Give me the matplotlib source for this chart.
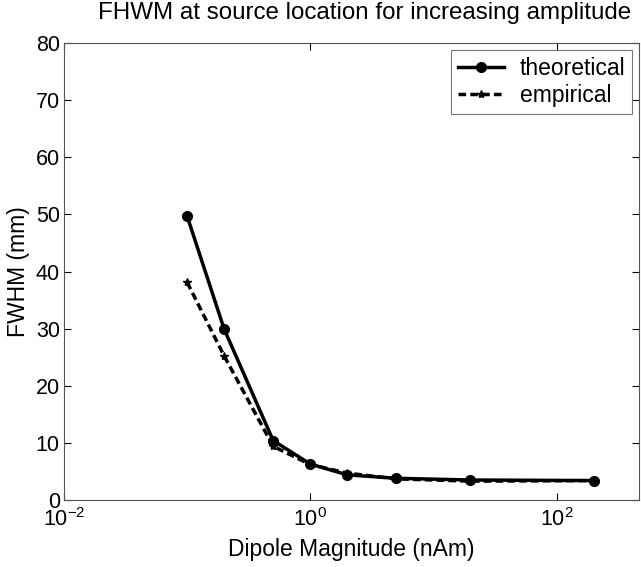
import matplotlib
matplotlib.use("Agg")
import matplotlib.pyplot as plt
from matplotlib.ticker import FixedLocator, NullLocator, FixedFormatter

plt.rcParams['font.family'] = ['Liberation Sans', 'DejaVu Sans']
plt.rcParams['mathtext.fontset'] = 'custom'
plt.rcParams['mathtext.rm'] = 'Liberation Sans'

magnitude = [0.1, 0.2, 0.5, 1, 2, 5, 20, 200]
theoretical = [49.7, 29.9, 10.4, 6.3, 4.4, 3.8, 3.5, 3.4]
empirical = [38.1, 25.2, 9.4, 6.2, 4.7, 3.7, 3.3, 3.4]

xticks = [1e-2, 1e0, 1e2]
xticklabels = [r'$10^{-2}$', r'$10^{0}$', r'$10^{2}$']
yticks = [0, 10, 20, 30, 40, 50, 60, 70, 80]

fig = plt.figure(figsize=(6.41, 5.67), dpi=100)
ax = fig.add_axes([64/641, 1-500/567, (639-64)/641, (500-43)/567])

ax.plot(magnitude, theoretical, '-', color='black', lw=2.5, marker='o',
        markersize=7, label='theoretical')
ax.plot(magnitude, empirical, '--', color='black', lw=2.5, marker='*',
        markersize=6, dashes=(2.2, 1.2), label='empirical')

ax.set_xscale('log')
ax.set_xlim(1e-2, 10**2.67)
ax.set_ylim(0, 80)
ax.xaxis.set_major_locator(FixedLocator(xticks))
ax.xaxis.set_major_formatter(FixedFormatter(xticklabels))
ax.xaxis.set_minor_locator(NullLocator())
ax.set_yticks(yticks)

ax.tick_params(direction='in', top=True, right=True, length=5, width=0.8,
               labelsize=15.5, colors='black', pad=3)
ax.tick_params(axis='x', pad=6)
for s in ax.spines.values():
    s.set_color('#555555')
    s.set_linewidth(0.8)

ax.set_xlabel('Dipole Magnitude (nAm)', fontsize=16.5, labelpad=5)
ax.set_ylabel('FWHM (mm)', fontsize=16.5, labelpad=4)
ax.set_title('FHWM at source location for increasing amplitude', fontsize=17.4,
             pad=17, x=0.522)

leg = ax.legend(loc='upper right', fontsize=16.5, frameon=True, fancybox=False,
                handlelength=2.0, borderaxespad=0.3, handletextpad=0.7,
                labelspacing=0.2, borderpad=0.3)
leg.get_frame().set_edgecolor('#555555')
leg.get_frame().set_linewidth(0.8)

fig.savefig('out.png', dpi=100)
